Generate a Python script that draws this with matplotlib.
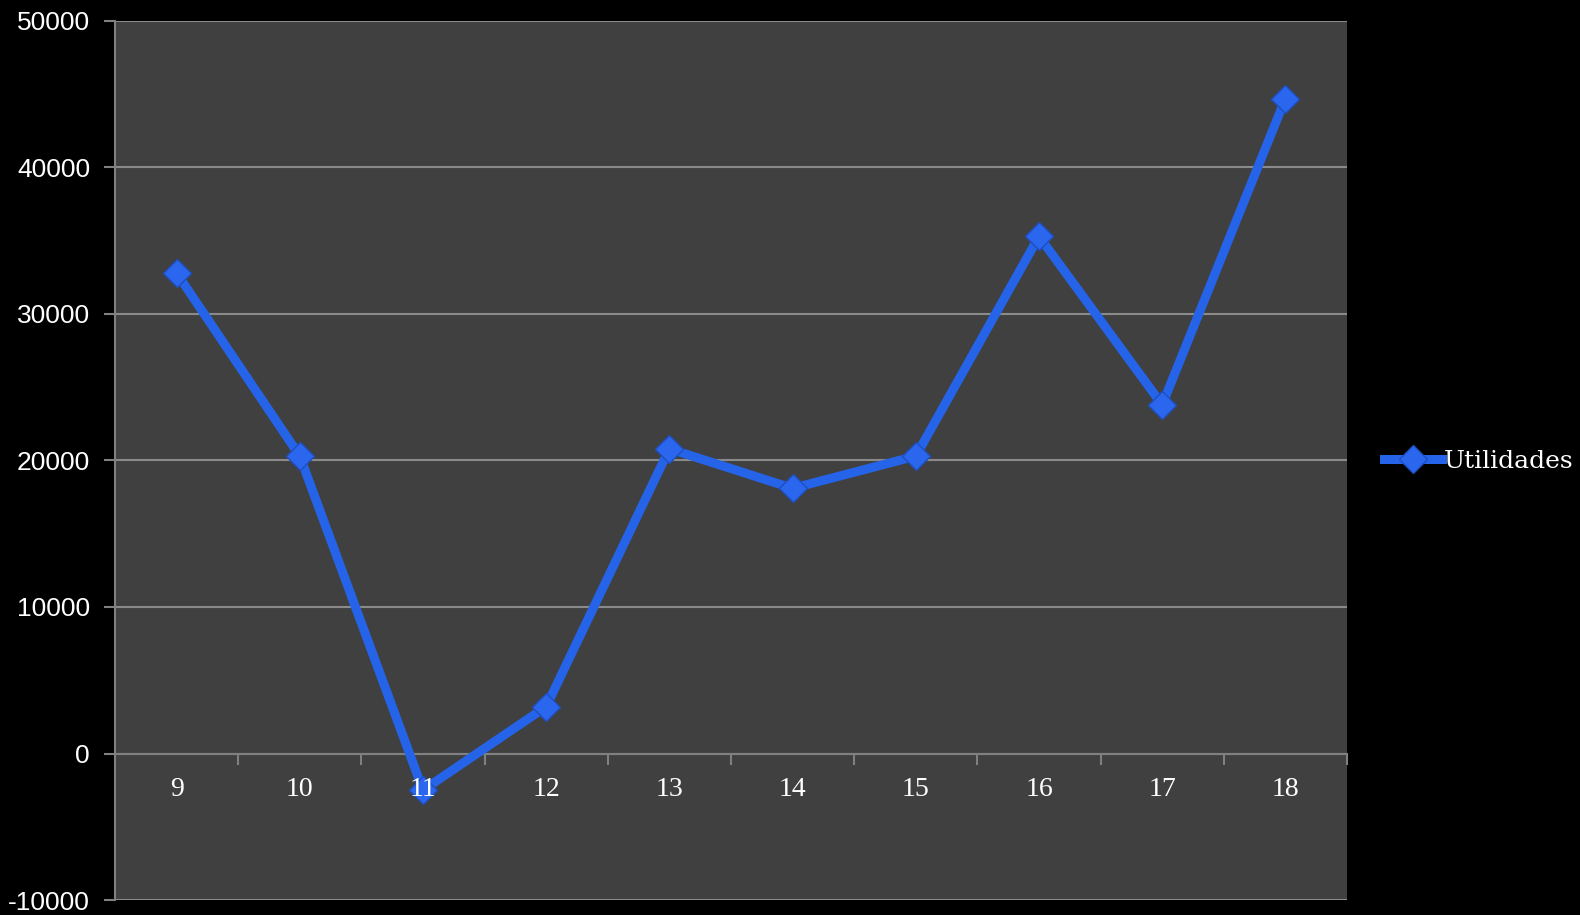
import matplotlib
matplotlib.use("Agg")
import matplotlib.pyplot as plt
import matplotlib.transforms as mtrans
from matplotlib.ticker import FixedLocator, NullFormatter

categories = ["9", "10", "11", "12", "13", "14", "15", "16", "17", "18"]
utilidades = [32800, 20300, -2500, 3200, 20800, 18100, 20300, 35300, 23800, 44700]
yticks = [-10000, 0, 10000, 20000, 30000, 40000, 50000]

fig = plt.figure(figsize=(15.8, 9.15), dpi=100, facecolor="black")
ax = fig.add_axes([115/1580, 1-900/915, (1347-115)/1580, (900-21)/915])
ax.set_facecolor("#404040")

x = list(range(len(categories)))
line, = ax.plot(x, utilidades, color="#2563E8", lw=6.5, marker="D", markersize=14,
                markerfacecolor="#2A66EE", markeredgecolor="#1E4FC0", markeredgewidth=1,
                solid_joinstyle="miter", label="Utilidades", zorder=5)

ax.set_xlim(-0.5, len(categories) - 0.5)
ax.set_ylim(-10000, 50000)

for s in ["top", "right"]:
    ax.spines[s].set_visible(False)
ax.spines["left"].set_color("#808080")
ax.spines["left"].set_linewidth(1.5)
ax.spines["bottom"].set_position(("data", 0))
ax.spines["bottom"].set_color("#808080")
ax.spines["bottom"].set_linewidth(1.5)

ax.set_yticks(yticks)
ax.set_yticklabels([str(v) for v in yticks], fontfamily="Liberation Sans", fontsize=19, color="white")
ax.tick_params(axis="y", length=8, width=1.5, color="#808080", pad=10)
ax.yaxis.grid(True, color="#8a8a8a", lw=1.5)
ax.set_axisbelow(True)

ax.xaxis.set_major_locator(FixedLocator([i + 0.5 for i in range(len(categories))]))
ax.xaxis.set_major_formatter(NullFormatter())
ax.tick_params(axis="x", which="major", length=8, width=1.5, color="#808080", direction="out")

# category labels drawn above the line, just below the zero axis
trans = mtrans.offset_copy(ax.transData, fig=fig, x=0, y=-36, units="dots")
for xi, lab in zip(x, categories):
    ax.text(xi, 0, lab, transform=trans, ha="center", va="center",
            fontfamily="Liberation Serif", fontsize=20, color="white", zorder=10)

fig.legend(handles=[line], loc="center left", bbox_to_anchor=(1384/1580, 1-461/915),
           frameon=False, handlelength=2.3, handletextpad=0.1, borderpad=0, borderaxespad=0,
           prop={"family": "DejaVu Serif", "size": 18}, labelcolor="white")

fig.savefig("out.png", dpi=100, facecolor="black")
